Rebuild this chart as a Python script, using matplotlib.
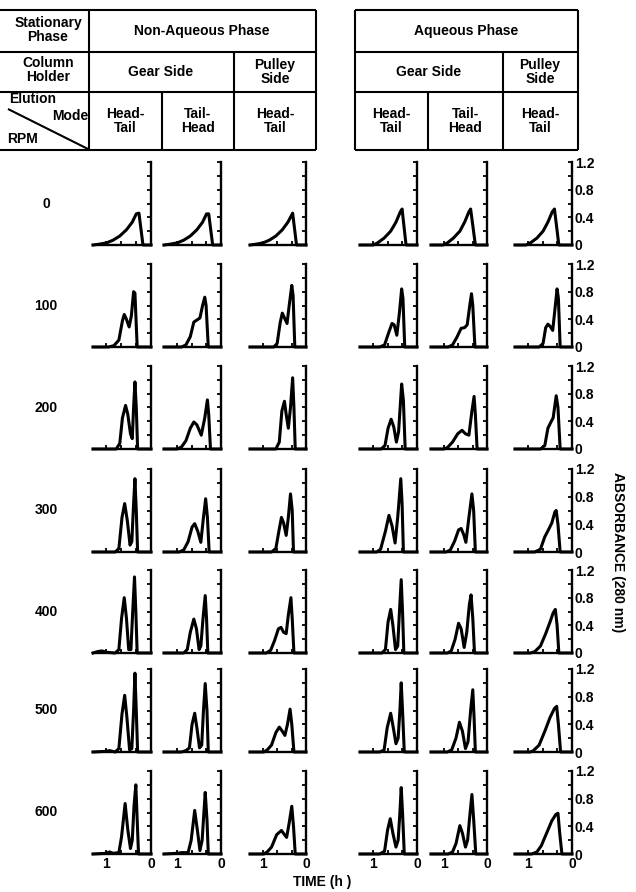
import matplotlib.pyplot as plt

plt.rcParams['font.family'] = ['Liberation Sans', 'DejaVu Sans']
plt.rcParams['font.weight'] = 'bold'

# --- data: (time h, absorbance) pairs per panel, rows = rpm ---
rpm_labels = ["0", "100", "200", "300", "400", "500", "600"]

na_gear_head_tail = [
    [(1.3, 0), (1.18, 0.01), (1.0, 0.03), (0.85, 0.07), (0.7, 0.13), (0.55, 0.22), (0.42, 0.33), (0.33, 0.45), (0.27, 0.46), (0.18, 0), (0, 0)],
    [(1.3, 0), (0.95, 0), (0.83, 0.02), (0.72, 0.1), (0.64, 0.38), (0.6, 0.47), (0.55, 0.4), (0.49, 0.29), (0.44, 0.45), (0.39, 0.8), (0.36, 0.78), (0.31, 0), (0, 0)],
    [(1.3, 0), (0.78, 0), (0.7, 0.08), (0.64, 0.45), (0.57, 0.63), (0.52, 0.5), (0.46, 0.22), (0.42, 0.15), (0.39, 0.6), (0.36, 0.97), (0.33, 0.6), (0.3, 0), (0, 0)],
    [(1.3, 0), (0.8, 0), (0.72, 0.05), (0.65, 0.5), (0.59, 0.7), (0.53, 0.45), (0.47, 0.1), (0.43, 0.15), (0.39, 0.7), (0.36, 1.06), (0.33, 0.6), (0.3, 0), (0, 0)],
    [(1.3, 0), (1.2, 0.02), (1.1, 0.03), (1.0, 0.01), (0.8, 0), (0.72, 0.05), (0.66, 0.5), (0.6, 0.8), (0.55, 0.5), (0.5, 0.05), (0.45, 0.05), (0.41, 0.6), (0.37, 1.1), (0.34, 0.6), (0.31, 0), (0, 0)],
    [(1.3, 0), (1.0, 0.01), (0.93, 0.02), (0.8, 0), (0.72, 0.05), (0.65, 0.55), (0.59, 0.82), (0.54, 0.5), (0.48, 0.03), (0.43, 0.05), (0.39, 0.6), (0.36, 1.14), (0.33, 0.6), (0.3, 0), (0, 0)],
    [(1.3, 0), (1.0, 0.01), (0.93, 0.03), (0.85, 0.01), (0.72, 0.02), (0.66, 0.25), (0.58, 0.73), (0.52, 0.35), (0.46, 0.08), (0.42, 0.2), (0.38, 0.7), (0.34, 1.0), (0.31, 0.5), (0.28, 0), (0, 0)],
]
na_gear_tail_head = [
    [(1.3, 0), (1.18, 0.01), (1.0, 0.03), (0.85, 0.07), (0.7, 0.13), (0.55, 0.22), (0.42, 0.33), (0.33, 0.45), (0.28, 0.45), (0.19, 0), (0, 0)],
    [(1.3, 0), (0.9, 0), (0.8, 0.03), (0.7, 0.15), (0.62, 0.36), (0.55, 0.39), (0.48, 0.42), (0.42, 0.6), (0.37, 0.72), (0.34, 0.6), (0.29, 0), (0, 0)],
    [(1.3, 0), (1.0, 0), (0.9, 0.03), (0.8, 0.12), (0.7, 0.3), (0.62, 0.39), (0.55, 0.35), (0.45, 0.2), (0.37, 0.45), (0.31, 0.71), (0.28, 0.5), (0.24, 0), (0, 0)],
    [(1.3, 0), (0.95, 0), (0.85, 0.03), (0.75, 0.15), (0.66, 0.36), (0.6, 0.41), (0.53, 0.3), (0.46, 0.14), (0.4, 0.5), (0.35, 0.77), (0.31, 0.5), (0.27, 0), (0, 0)],
    [(1.3, 0), (0.85, 0), (0.77, 0.05), (0.7, 0.3), (0.62, 0.49), (0.56, 0.35), (0.5, 0.05), (0.46, 0.1), (0.41, 0.5), (0.36, 0.83), (0.33, 0.5), (0.3, 0), (0, 0)],
    [(1.3, 0), (0.9, 0), (0.8, 0.02), (0.72, 0.06), (0.66, 0.4), (0.6, 0.56), (0.55, 0.35), (0.49, 0.06), (0.44, 0.1), (0.4, 0.6), (0.36, 0.99), (0.32, 0.6), (0.29, 0), (0, 0)],
    [(1.3, 0), (1.0, 0.01), (0.9, 0.02), (0.75, 0.02), (0.68, 0.2), (0.6, 0.63), (0.54, 0.35), (0.48, 0.05), (0.43, 0.2), (0.39, 0.6), (0.36, 0.89), (0.32, 0.5), (0.29, 0), (0, 0)],
]
na_pulley_head_tail = [
    [(1.3, 0), (1.18, 0.01), (1.0, 0.03), (0.85, 0.07), (0.7, 0.13), (0.55, 0.22), (0.42, 0.33), (0.31, 0.46), (0.22, 0), (0, 0)],
    [(1.3, 0), (0.75, 0), (0.67, 0.05), (0.6, 0.35), (0.55, 0.49), (0.5, 0.42), (0.44, 0.34), (0.39, 0.6), (0.33, 0.89), (0.3, 0.75), (0.26, 0), (0, 0)],
    [(1.3, 0), (0.7, 0), (0.62, 0.1), (0.56, 0.55), (0.5, 0.69), (0.46, 0.5), (0.41, 0.3), (0.36, 0.6), (0.31, 1.03), (0.28, 0.6), (0.25, 0), (0, 0)],
    [(1.3, 0), (0.8, 0), (0.7, 0.05), (0.63, 0.3), (0.57, 0.5), (0.52, 0.42), (0.46, 0.24), (0.41, 0.5), (0.36, 0.84), (0.32, 0.6), (0.29, 0), (0, 0)],
    [(1.3, 0), (0.92, 0), (0.82, 0.04), (0.73, 0.18), (0.64, 0.35), (0.58, 0.37), (0.52, 0.3), (0.46, 0.28), (0.41, 0.55), (0.35, 0.8), (0.32, 0.5), (0.28, 0), (0, 0)],
    [(1.3, 0), (0.98, 0), (0.9, 0.03), (0.8, 0.1), (0.7, 0.28), (0.62, 0.36), (0.55, 0.3), (0.49, 0.24), (0.43, 0.4), (0.37, 0.62), (0.33, 0.4), (0.28, 0), (0, 0)],
    [(1.3, 0), (0.98, 0), (0.9, 0.03), (0.8, 0.1), (0.68, 0.28), (0.57, 0.34), (0.5, 0.28), (0.45, 0.24), (0.39, 0.45), (0.33, 0.69), (0.29, 0.4), (0.25, 0), (0, 0)],
]
aq_gear_head_tail = [
    [(1.3, 0), (1.0, 0), (0.9, 0.03), (0.75, 0.1), (0.6, 0.2), (0.48, 0.33), (0.38, 0.48), (0.34, 0.52), (0.25, 0), (0, 0)],
    [(1.3, 0), (0.85, 0), (0.74, 0.03), (0.65, 0.2), (0.57, 0.34), (0.52, 0.32), (0.46, 0.17), (0.4, 0.5), (0.35, 0.84), (0.32, 0.7), (0.28, 0), (0, 0)],
    [(1.3, 0), (0.82, 0), (0.73, 0.05), (0.66, 0.3), (0.59, 0.43), (0.53, 0.32), (0.47, 0.1), (0.42, 0.25), (0.35, 0.94), (0.31, 0.7), (0.27, 0), (0, 0)],
    [(1.3, 0), (0.92, 0), (0.83, 0.04), (0.72, 0.3), (0.64, 0.53), (0.57, 0.38), (0.5, 0.13), (0.44, 0.5), (0.37, 1.06), (0.34, 0.7), (0.31, 0), (0, 0)],
    [(1.3, 0), (0.8, 0), (0.72, 0.05), (0.66, 0.45), (0.6, 0.63), (0.55, 0.4), (0.49, 0.05), (0.44, 0.1), (0.4, 0.6), (0.36, 1.06), (0.33, 0.6), (0.3, 0), (0, 0)],
    [(1.3, 0), (0.85, 0), (0.75, 0.03), (0.68, 0.35), (0.6, 0.56), (0.54, 0.35), (0.48, 0.12), (0.43, 0.2), (0.39, 0.6), (0.36, 1.0), (0.33, 0.6), (0.29, 0), (0, 0)],
    [(1.3, 0), (0.85, 0), (0.74, 0.04), (0.67, 0.35), (0.61, 0.51), (0.55, 0.3), (0.48, 0.1), (0.43, 0.2), (0.39, 0.6), (0.36, 0.96), (0.33, 0.6), (0.29, 0), (0, 0)],
]
aq_gear_tail_head = [
    [(1.3, 0), (1.02, 0), (0.92, 0.03), (0.78, 0.1), (0.63, 0.2), (0.52, 0.33), (0.42, 0.48), (0.38, 0.52), (0.27, 0), (0, 0)],
    [(1.3, 0), (0.9, 0), (0.8, 0.03), (0.7, 0.14), (0.6, 0.27), (0.52, 0.28), (0.46, 0.32), (0.4, 0.6), (0.36, 0.77), (0.33, 0.6), (0.28, 0), (0, 0)],
    [(1.3, 0), (1.0, 0), (0.92, 0.02), (0.8, 0.1), (0.68, 0.22), (0.58, 0.27), (0.5, 0.22), (0.42, 0.2), (0.35, 0.55), (0.3, 0.76), (0.27, 0.5), (0.23, 0), (0, 0)],
    [(1.3, 0), (0.95, 0), (0.85, 0.03), (0.75, 0.16), (0.66, 0.32), (0.6, 0.34), (0.54, 0.25), (0.49, 0.14), (0.42, 0.5), (0.35, 0.84), (0.31, 0.6), (0.27, 0), (0, 0)],
    [(1.3, 0), (0.92, 0), (0.83, 0.03), (0.74, 0.2), (0.66, 0.43), (0.6, 0.35), (0.53, 0.08), (0.47, 0.3), (0.41, 0.7), (0.37, 0.84), (0.33, 0.5), (0.29, 0), (0, 0)],
    [(1.3, 0), (0.92, 0), (0.82, 0.03), (0.72, 0.2), (0.64, 0.43), (0.57, 0.3), (0.5, 0.05), (0.44, 0.15), (0.38, 0.6), (0.33, 0.9), (0.3, 0.5), (0.27, 0), (0, 0)],
    [(1.3, 0), (0.9, 0), (0.8, 0.03), (0.72, 0.15), (0.63, 0.41), (0.57, 0.3), (0.5, 0.1), (0.45, 0.2), (0.4, 0.55), (0.35, 0.86), (0.31, 0.5), (0.26, 0), (0, 0)],
]
aq_pulley_head_tail = [
    [(1.3, 0), (1.05, 0), (0.95, 0.03), (0.8, 0.1), (0.66, 0.2), (0.55, 0.33), (0.45, 0.48), (0.4, 0.52), (0.3, 0), (0, 0)],
    [(1.3, 0), (0.75, 0), (0.66, 0.05), (0.6, 0.28), (0.55, 0.33), (0.5, 0.3), (0.44, 0.24), (0.38, 0.6), (0.34, 0.84), (0.31, 0.7), (0.27, 0), (0, 0)],
    [(1.3, 0), (0.72, 0), (0.62, 0.05), (0.55, 0.3), (0.48, 0.39), (0.43, 0.45), (0.36, 0.77), (0.32, 0.6), (0.27, 0), (0, 0)],
    [(1.3, 0), (0.85, 0), (0.72, 0.04), (0.62, 0.22), (0.53, 0.33), (0.46, 0.42), (0.39, 0.58), (0.36, 0.6), (0.32, 0.4), (0.27, 0), (0, 0)],
    [(1.3, 0), (0.95, 0), (0.85, 0.02), (0.72, 0.1), (0.6, 0.28), (0.5, 0.45), (0.43, 0.58), (0.38, 0.63), (0.34, 0.4), (0.3, 0), (0, 0)],
    [(1.3, 0), (0.95, 0), (0.88, 0.02), (0.75, 0.1), (0.62, 0.3), (0.5, 0.5), (0.4, 0.63), (0.35, 0.66), (0.31, 0.4), (0.26, 0), (0, 0)],
    [(1.3, 0), (0.92, 0), (0.8, 0.03), (0.7, 0.12), (0.58, 0.3), (0.46, 0.48), (0.37, 0.57), (0.32, 0.59), (0.28, 0.3), (0.23, 0), (0, 0)],
]
columns = [na_gear_head_tail, na_gear_tail_head, na_pulley_head_tail,
           aq_gear_head_tail, aq_gear_tail_head, aq_pulley_head_tail]

abs_ticks = [0, 0.2, 0.4, 0.6, 0.8, 1.0, 1.2]
abs_labels = ["0", "", "0.4", "", "0.8", "", "1.2"]
time_ticks = [0, 1 / 3, 2 / 3, 1]
time_labels = ["0", "", "", "1"]

# --- layout in pixels ---
W, H = 636, 892
col_x = [(93, 151), (164, 221), (250, 306), (360, 417), (431, 487), (515, 572)]
row_base = [245, 347, 449, 552, 653, 752, 854]
panel_h = 83
FS = 10


def rect(x0, y0, x1, y1):
    return [x0 / W, 1 - y1 / H, (x1 - x0) / W, (y1 - y0) / H]


fig = plt.figure(figsize=(W / 100, H / 100), dpi=100)
bg = fig.add_axes([0, 0, 1, 1])
bg.set_xlim(0, W)
bg.set_ylim(H, 0)
bg.axis('off')


def line(x0, y0, x1, y1):
    bg.plot([x0, x1], [y0, y1], color='black', lw=1.5, solid_capstyle='butt')


# header tables
for (xl, xr, xg, xs) in [(89, 316, 234, 162), (355, 578, 503, 428)]:
    for y in (10, 52, 92, 150):
        line(0 if xl == 89 else xl, y, xr, y)
    line(xl, 10, xl, 150)
    line(xr, 10, xr, 150)
    line(xg, 52, xg, 150)
    line(xs, 92, xs, 150)
line(8, 109, 88, 149)

txt = dict(ha='center', va='center', fontsize=FS, fontweight='bold', linespacing=1.05)
bg.text(48, 30, "Stationary\nPhase", **txt)
bg.text(48, 70, "Column\nHolder", **txt)
bg.text(9, 99, "Elution", ha='left', va='center', fontsize=FS, fontweight='bold')
bg.text(88, 116, "Mode", ha='right', va='center', fontsize=FS, fontweight='bold')
bg.text(7, 139, "RPM", ha='left', va='center', fontsize=FS, fontweight='bold')
bg.text(202, 31, "Non-Aqueous Phase", **txt)
bg.text(466, 31, "Aqueous Phase", **txt)
for xg, xp in [(161, 275), (429, 540)]:
    bg.text(xg, 72, "Gear Side", **txt)
    bg.text(xp, 72, "Pulley\nSide", **txt)
for x, s in [(125, "Head-\nTail"), (198, "Tail-\nHead"), (275, "Head-\nTail"),
             (391, "Head-\nTail"), (465, "Tail-\nHead"), (540, "Head-\nTail")]:
    bg.text(x, 121, s, **txt)

# row labels and axis titles
for r, lab in enumerate(rpm_labels):
    bg.text(46, row_base[r] - panel_h / 2, lab, **txt)
bg.text(618, 552, "ABSORBANCE (280 nm)", rotation=-90, **txt)
bg.text(293, 882, "TIME (h )", ha='left', va='center', fontsize=FS, fontweight='bold')

# chromatogram panels
for c, curves in enumerate(columns):
    x0, x1 = col_x[c]
    for r, pts in enumerate(curves):
        ax = fig.add_axes(rect(x0, row_base[r] - panel_h, x1, row_base[r]))
        ax.patch.set_alpha(0)
        t = [p[0] for p in pts]
        a = [p[1] for p in pts]
        ax.plot(t, a, color='black', lw=2.2, solid_joinstyle='round', clip_on=False)
        ax.set_xlim(1.3, 0)
        ax.set_ylim(0, 1.2)
        for s in ('top', 'left'):
            ax.spines[s].set_visible(False)
        for s in ('right', 'bottom'):
            ax.spines[s].set_linewidth(1.7)
        ax.yaxis.tick_right()
        ax.set_yticks(abs_ticks)
        ax.set_yticklabels(abs_labels if c == 5 else [""] * len(abs_ticks))
        ax.set_xticks(time_ticks)
        ax.set_xticklabels(time_labels if r == 6 else [""] * len(time_ticks))
        ax.tick_params(direction='in', length=3, width=1.3, labelsize=FS, pad=2)
        for lab in ax.get_xticklabels() + ax.get_yticklabels():
            lab.set_fontweight('bold')

fig.savefig("out.png", dpi=100)
